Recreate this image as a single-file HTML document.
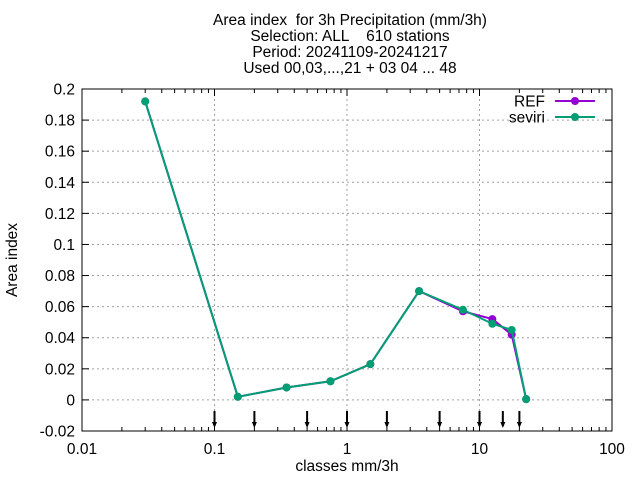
<!DOCTYPE html>
<html><head><meta charset="utf-8"><style>body{margin:0;background:#fff}svg{display:block;font-family:"Liberation Sans",sans-serif}text{white-space:pre}</style></head>
<body>
<svg id="chart" width="640" height="480" xmlns="http://www.w3.org/2000/svg">
<g id="titles" font-size="15.5" text-anchor="middle" fill="#000">
<text x="350" y="25" xml:space="preserve">Area index  for 3h Precipitation (mm/3h)</text>
<text x="350" y="41" xml:space="preserve">Selection: ALL    610 stations</text>
<text x="350" y="57">Period: 20241109-20241217</text>
<text x="350" y="73">Used 00,03,...,21 + 03 04 ... 48</text>
</g>
<g id="grid"></g>
<g id="axes"></g>
<g id="series"></g>
<text transform="translate(17,260) rotate(-90)" text-anchor="middle" font-size="15.5">Area index</text>
<text x="347" y="471" text-anchor="middle" font-size="15.5">classes mm/3h</text>
</svg>
<script>
const classes=[0.03,0.15,0.35,0.75,1.5,3.5,7.5,12.5,17.5,22.5];
const refValues=[0.192,0.002,0.008,0.012,0.023,0.070,0.057,0.052,0.042,0.0005];
const seviriValues=[0.192,0.002,0.008,0.012,0.023,0.070,0.058,0.049,0.045,0.0005];
const yTicks=[-0.02,0,0.02,0.04,0.06,0.08,0.1,0.12,0.14,0.16,0.18,0.2];
const yTickLabels=["-0.02","0","0.02","0.04","0.06","0.08","0.1","0.12","0.14","0.16","0.18","0.2"];
const xTicks=[0.01,0.1,1,10,100];
const xTickLabels=["0.01","0.1","1","10","100"];
const thresholds=[0.1,0.2,0.5,1,2,5,10,15,20];

const L=82,R=612,T=89,B=431;
const NS="http://www.w3.org/2000/svg";
function sx(v){return L+(Math.log10(v)+2)/4*(R-L);}
function sy(v){return B-(v+0.02)/0.22*(B-T);}
function mk(tag,attrs,parent){const e=document.createElementNS(NS,tag);for(const k in attrs)e.setAttribute(k,attrs[k]);parent.appendChild(e);return e;}
const grid=document.getElementById('grid'),axes=document.getElementById('axes'),series=document.getElementById('series');

yTicks.forEach((t,i)=>{
  const y=sy(t);
  if(i>0&&i<yTicks.length-1){const g=mk('line',{x1:L,x2:R,y1:y,y2:y,stroke:'#a0a0a0','stroke-dasharray':'2,3','stroke-width':1},grid);
  
  }
  mk('line',{x1:L,x2:L+7,y1:y,y2:y,stroke:'#000'},axes);
  mk('line',{x1:R-7,x2:R,y1:y,y2:y,stroke:'#000'},axes);
  const tx=mk('text',{x:L-7,y:y+5.5,'text-anchor':'end','font-size':15.5},axes);
  tx.textContent=yTickLabels[i];
  
  
});
xTicks.forEach((t,i)=>{
  const x=sx(t);
  if(i>0&&i<xTicks.length-1){const g=mk('line',{x1:x,x2:x,y1:T,y2:B,stroke:'#a0a0a0','stroke-dasharray':'2,3','stroke-width':1},grid);
  
  }
  mk('line',{x1:x,x2:x,y1:B,y2:B-7,stroke:'#000'},axes);
  mk('line',{x1:x,x2:x,y1:T,y2:T+7,stroke:'#000'},axes);
  const tx=mk('text',{x:x,y:B+23,'text-anchor':'middle','font-size':15.5},axes);
  tx.textContent=xTickLabels[i];
  
  
  if(i<xTicks.length-1){for(let m=2;m<10;m++){const mx=sx(t*m);
    mk('line',{x1:mx,x2:mx,y1:B,y2:B-4,stroke:'#000'},axes);
    mk('line',{x1:mx,x2:mx,y1:T,y2:T+4,stroke:'#000'},axes);}}
});
mk('rect',{x:L,y:T,width:R-L,height:B-T,fill:'none',stroke:'#000'},axes);
thresholds.forEach(t=>{const x=sx(t);
  const a=mk('g',{},axes);
  
  
  mk('line',{x1:x,x2:x,y1:411,y2:426,stroke:'#000','stroke-width':2},a);
  mk('path',{d:`M${x-2.5},422 L${x+2.5},422 L${x},428 Z`,fill:'#000'},a);
});
function drawSeries(vals,color,name){
  const g=mk('g',{},series);
  
  
  mk('polyline',{points:vals.map((v,i)=>sx(classes[i])+','+sy(v)).join(' '),fill:'none',stroke:color,'stroke-width':2},g);
  vals.forEach((v,i)=>{const c=mk('circle',{cx:sx(classes[i]),cy:sy(v),r:4,fill:color},g);
    
    });
}
drawSeries(refValues,'#9400d3','ref-series');
drawSeries(seviriValues,'#009e73','seviri-series');
[['REF','#9400d3',101],['seviri','#009e73',117]].forEach(([n,c,y])=>{
  const g=mk('g',{},series);
  
  
  const t=mk('text',{x:545,y:y+5.5,'text-anchor':'end','font-size':15.5},g);t.textContent=n;
  mk('line',{x1:555,x2:595,y1:y,y2:y,stroke:c,'stroke-width':2},g);
  mk('circle',{cx:575,cy:y,r:4,fill:c},g);
});
</script>
</body></html>
